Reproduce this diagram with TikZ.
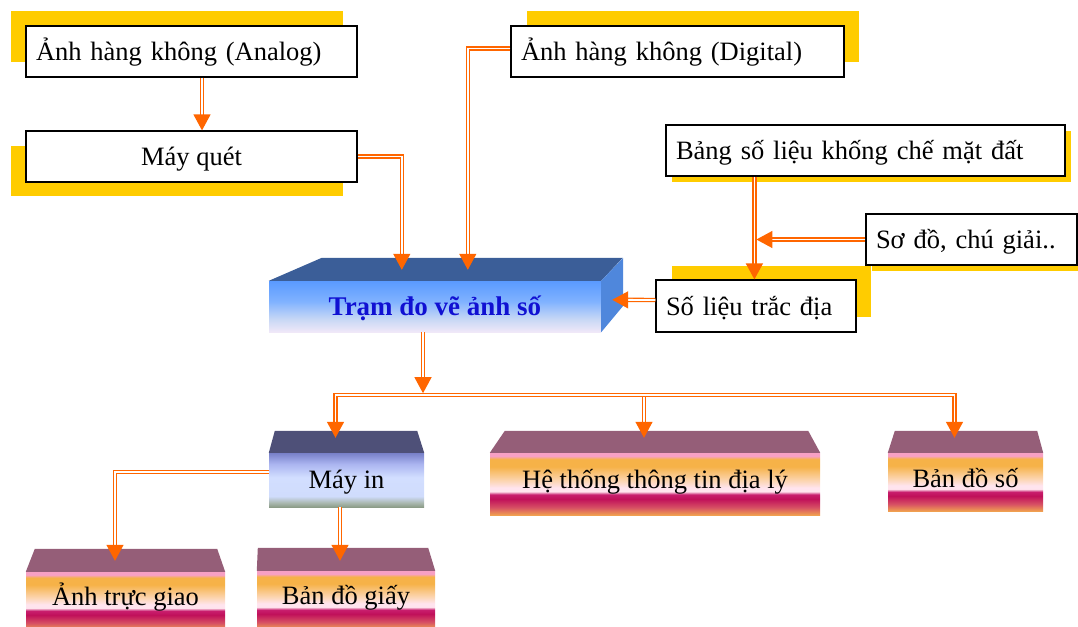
\documentclass[tikz,border=0pt]{standalone}
\usepackage{fontspec}
\setmainfont{Liberation Serif}
\usetikzlibrary{arrows.meta,calc}
\definecolor{conor}{RGB}{255,102,0}
\definecolor{shyel}{RGB}{255,204,0}
\definecolor{mauvetop}{RGB}{149,94,120}
\definecolor{slatetop}{RGB}{78,80,120}
\definecolor{tramtop}{RGB}{59,94,152}
\definecolor{tramright}{RGB}{79,135,220}
\definecolor{tramtext}{RGB}{16,16,210}
% pink/orange front
\definecolor{pkA}{RGB}{240,160,80}
\definecolor{pkB}{RGB}{215,80,100}
\definecolor{pkC}{RGB}{192,16,90}
\definecolor{pkD}{RGB}{200,30,110}
\definecolor{pkE}{RGB}{255,228,238}
\definecolor{pkF}{RGB}{252,214,180}
\definecolor{pkG}{RGB}{246,178,72}
\definecolor{pkH}{RGB}{247,160,196}
% blue front
\definecolor{tbA}{RGB}{240,232,248}
\definecolor{tbB}{RGB}{200,216,245}
\definecolor{tbC}{RGB}{128,178,255}
\definecolor{tbD}{RGB}{90,154,255}
% printer front
\definecolor{miA}{RGB}{140,156,136}
\definecolor{miB}{RGB}{170,184,176}
\definecolor{miC}{RGB}{208,220,252}
\definecolor{miD}{RGB}{210,222,255}
\definecolor{miE}{RGB}{170,180,240}
\definecolor{miF}{RGB}{120,128,200}
\pgfdeclareverticalshading{pinkfront}{100bp}{color(0bp)=(pkA); color(25bp)=(pkA); color(31bp)=(pkB); color(38bp)=(pkC); color(41.5bp)=(pkD); color(44bp)=(pkE); color(47bp)=(pkE); color(52.5bp)=(pkF); color(64bp)=(pkG); color(70bp)=(pkG); color(72.5bp)=(pkH); color(75bp)=(pkH); color(100bp)=(pkH)}
\pgfdeclareverticalshading{bluefront}{100bp}{color(0bp)=(tbA); color(25bp)=(tbA); color(37.5bp)=(tbB); color(55bp)=(tbC); color(75bp)=(tbD); color(100bp)=(tbD)}
\pgfdeclareverticalshading{printfront}{100bp}{color(0bp)=(miA); color(25bp)=(miA); color(29bp)=(miB); color(35bp)=(miC); color(52.5bp)=(miD); color(65bp)=(miE); color(75bp)=(miF); color(100bp)=(miF)}
\begin{document}
\begin{tikzpicture}[x=1pt,y=-1pt,
  txt/.style={font=\fontsize{26.5}{32}\selectfont},
  wbox/.style={txt, draw=black, line width=1.2pt, fill=white, minimum height=51pt, inner sep=0pt, text height=25pt, text depth=7pt},
  lbox/.style={wbox, align=left, text width=#1, inner xsep=10pt},
  front/.style={txt, inner sep=0pt, minimum width=#1},
  pinkblock/.style={front=#1, shading=pinkfront},
  conn/.style={draw=conor, double=white, line width=1.3pt, double distance=1.8pt, -{Triangle[length=16pt,width=17pt]}},
]
\useasboundingbox (0,0) rectangle (1078,626);
% yellow shadows
\fill[shyel] (11,11) rectangle (343,62);
\fill[shyel] (11,146) rectangle (343,196);
\fill[shyel] (527,11) rectangle (859,62);
\fill[shyel] (672,131) rectangle (1071,182);
\fill[shyel] (872,220) rectangle (1090,271);
\fill[shyel] (672,266) rectangle (871,317);

% white boxes
\node[lbox=311pt] (ana) at (191.5,51.5) {Ảnh hàng không (Analog)};
\node[wbox, minimum width=331pt] (quet) at (191.5,156.5) {Máy quét};
\node[lbox=313pt] (dig) at (677.5,51.5) {Ảnh hàng không (Digital)};
\node[lbox=379pt] (bang) at (865.5,150.5) {Bảng số liệu khống chế mặt đất};
\node[lbox=191pt] (sodo) at (971.5,239.5) {Sơ đồ, chú giải..};
\node[lbox=180pt, minimum height=52pt] (trac) at (756,306) {Số liệu trắc địa};

% central block
\node[front=332pt, minimum height=51pt, shading=bluefront, text height=24.5pt, text depth=7.5pt,
      font=\fontsize{27}{32}\selectfont\bfseries, text=tramtext] (tram) at (435,306.5) {Trạm đo vẽ ảnh số};
\fill[tramtop] (tram.north west) -- ++(53,-23) -- ++(301,0) -- (tram.north east) -- cycle;
\fill[tramright] (tram.north east) -- ++(22,-23) -- ++(0,48) -- (tram.south east) -- cycle;

% printer
\node[front=155pt, minimum height=54pt, shading=printfront, text height=24pt, text depth=8pt] (mayin) at (346.5,480) {Máy in};
\fill[slatetop] (mayin.north west) -- ++(6,-22) -- ($(mayin.north east)+(-7,-22)$) -- (mayin.north east) -- cycle;

% pink blocks
\node[pinkblock=330pt, minimum height=62pt, text height=20pt, text depth=12pt] (httt) at (655,484) {Hệ thống thông tin địa lý};
\fill[mauvetop] (httt.north west) -- ++(15,-22) -- ($(httt.north east)+(-12,-22)$) -- (httt.north east) -- cycle;
\node[pinkblock=155pt, minimum height=58pt, text height=21pt, text depth=11pt] (bds) at (965.5,482) {Bản đồ số};
\fill[mauvetop] (bds.north west) -- ++(7,-22) -- ($(bds.north east)+(-6,-22)$) -- (bds.north east) -- cycle;
\node[pinkblock=199pt, minimum height=58pt, text height=20pt, text depth=12pt] (atg) at (125.5,601) {Ảnh trực giao};
\fill[mauvetop] (atg.north west) -- ++(9,-23) -- ($(atg.north east)+(-8,-23)$) -- (atg.north east) -- cycle;
\node[pinkblock=178pt, minimum height=58pt, text height=20pt, text depth=12pt] (bdg) at (346,600) {Bản đồ giấy};
\fill[mauvetop] (bdg.north west) -- ++(1,-23) -- ($(bdg.north east)+(-7,-23)$) -- (bdg.north east) -- cycle;

% target points on 3D faces
\coordinate (t1) at ($(tram.north west)+(133,-11)$);
\coordinate (t2) at ($(tram.north west)+(199,-11)$);
\coordinate (t3) at ($(tram.north east)+(11,19)$);
\coordinate (bus) at ($(tram.south)+(-12,63)$);
\coordinate (m1) at ($(mayin.north)+(-11,-15)$);
\coordinate (m2) at ($(httt.north)+(-11,-15)$);
\coordinate (m3) at ($(bds.north)+(-11,-15)$);
\coordinate (a1) at ($(atg.north)+(-10.5,-11)$);
\coordinate (a2) at ($(bdg.north)+(-6,-10)$);

% connectors
\draw[conn] ([xshift=10.5pt]ana.south) -- ([xshift=10.5pt]quet.north);
\draw[conn] (quet.east) -| (t1);
\draw[conn] ([yshift=3pt]dig.west) -| (t2);
\draw[conn] ([xshift=89pt]bang.south west) -- ([xshift=89pt]bang.south west |- trac.north);
\draw[conn] (sodo.west) -- ++(-109,0);
\draw[conn] ([yshift=6pt]trac.west) -- (t3);
\draw[conn] ([xshift=-12pt]tram.south) -- ($(bus)+(0,-2)$);
\draw[conn] (bus) -| (m2);
\draw[conn] (bus) -| (m3);
\draw[conn] (bus) -| (m1);
\draw[conn] ([yshift=8pt]mayin.west) -| (a1);
\draw[conn] ([xshift=-6.5pt]mayin.south) -- (a2);
\end{tikzpicture}
\end{document}
